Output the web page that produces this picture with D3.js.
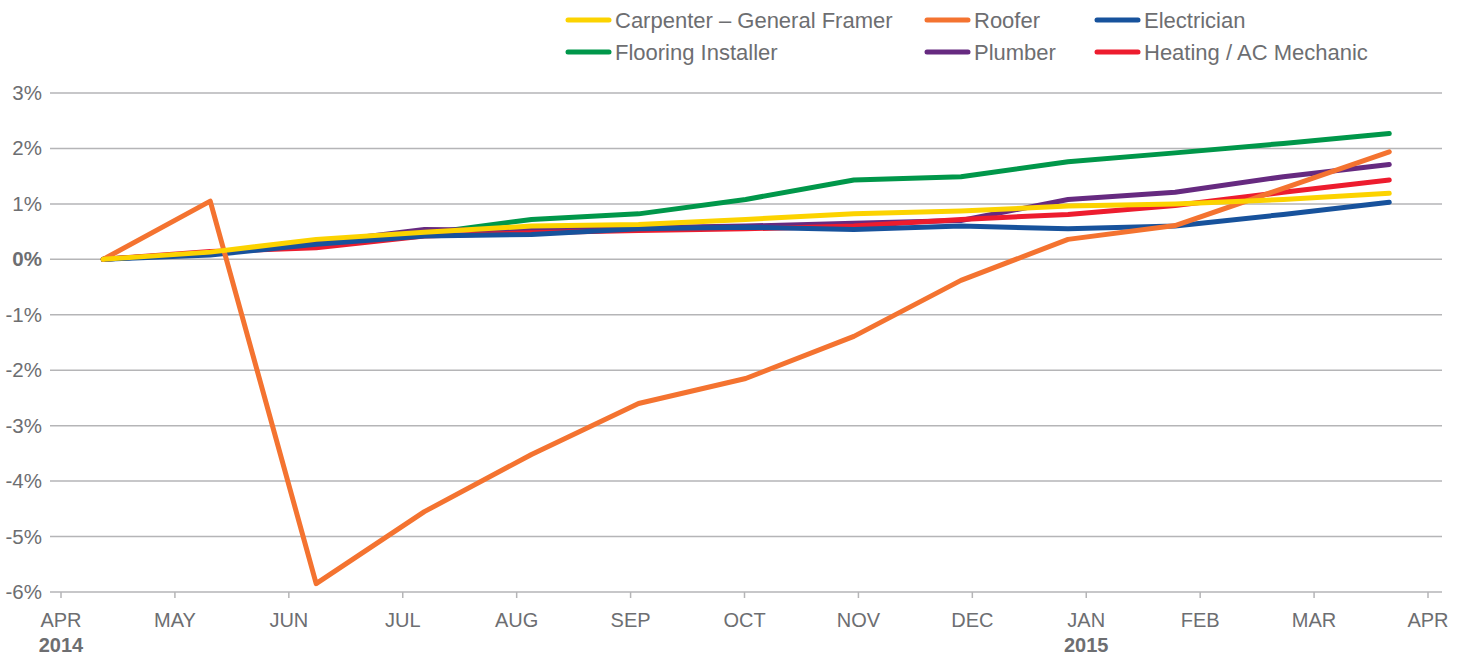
<!DOCTYPE html>
<html>
<head>
<meta charset="utf-8">
<style>
  body { margin: 0; background: #fff; }
  text { font-family: "Liberation Sans", Arial, sans-serif; fill: #6d6e71; }
</style>
</head>
<body>
<div id="chart"></div>
<script src="https://d3js.org/d3.v7.min.js"></script>
<script>
// month ticks along the x axis (APR 2014 .. APR 2015), one per index
var monthLabels = ["APR", "MAY", "JUN", "JUL", "AUG", "SEP", "OCT", "NOV", "DEC", "JAN", "FEB", "MAR", "APR"];
var yearLabels = [{ idx: 0, label: "2014" }, { idx: 9, label: "2015" }];
var yTicks = [-6, -5, -4, -3, -2, -1, 0, 1, 2, 3];

// position of each observation, in month units from APR 2014
var periods = [0.37, 1.31, 2.24, 3.19, 4.13, 5.07, 6.01, 6.96, 7.90, 8.84, 9.78, 10.73, 11.66];

// cumulative change, %
var carpenter   = [0, 0.13, 0.36, 0.49, 0.60, 0.63, 0.72, 0.82, 0.87, 0.96, 1.00, 1.08, 1.19];
var roofer      = [0, 1.05, -5.85, -4.55, -3.52, -2.60, -2.15, -1.39, -0.38, 0.36, 0.61, 1.28, 1.94];
var electrician = [0, 0.08, 0.27, 0.42, 0.45, 0.55, 0.58, 0.54, 0.60, 0.55, 0.60, 0.81, 1.03];
var flooring    = [0, 0.12, 0.30, 0.46, 0.72, 0.82, 1.08, 1.43, 1.49, 1.76, 1.92, 2.09, 2.27];
var plumber     = [0, 0.12, 0.30, 0.54, 0.52, 0.57, 0.60, 0.65, 0.70, 1.08, 1.21, 1.49, 1.71];
var heating     = [0, 0.14, 0.21, 0.42, 0.48, 0.52, 0.55, 0.60, 0.72, 0.81, 0.97, 1.21, 1.43];

var series = [
  { name: "Carpenter \u2013 General Framer", values: carpenter, color: "#fcd300", col: 0, row: 0, z: 5 },
  { name: "Roofer", values: roofer, color: "#f47330", col: 1, row: 0, z: 4 },
  { name: "Electrician", values: electrician, color: "#17529c", col: 2, row: 0, z: 3 },
  { name: "Flooring Installer", values: flooring, color: "#00974a", col: 0, row: 1, z: 0 },
  { name: "Plumber", values: plumber, color: "#662a80", col: 1, row: 1, z: 1 },
  { name: "Heating / AC Mechanic", values: heating, color: "#ed1c2e", col: 2, row: 1, z: 2 }
];

var W = 1465, H = 656;
var svg = d3.select("#chart").append("svg")
  .attr("width", W).attr("height", H);

var x = d3.scaleLinear().domain([0, 12]).range([61, 1428]);
var y = d3.scaleLinear().domain([-6, 3]).range([592, 93]);
var gridX0 = 50, gridX1 = 1442;

// horizontal gridlines
svg.append("g").selectAll("line")
  .data(yTicks)
  .enter().append("line")
    .attr("x1", gridX0).attr("x2", gridX1)
    .attr("y1", function(d) { return y(d) }).attr("y2", function(d) { return y(d) })
    .attr("stroke", "#b5b5b7").attr("stroke-width", 1.5);

// y labels
svg.append("g").selectAll("text")
  .data(yTicks)
  .enter().append("text")
    .attr("x", 42)
    .attr("y", function(d) { return y(d) + 7 })
    .attr("text-anchor", "end")
    .attr("font-size", "20.5px")
    .attr("font-weight", function(d) { return d === 0 ? "bold" : "normal" })
    .text(function(d) { return d + "%" });

// x axis ticks + labels
var xa = svg.append("g");
xa.selectAll("line")
  .data(monthLabels)
  .enter().append("line")
    .attr("x1", function(d, i) { return x(i) }).attr("x2", function(d, i) { return x(i) })
    .attr("y1", y(-6)).attr("y2", y(-6) + 6)
    .attr("stroke", "#b5b5b7").attr("stroke-width", 1.5);
xa.selectAll("text.month")
  .data(monthLabels)
  .enter().append("text")
    .attr("class", "month")
    .attr("x", function(d, i) { return x(i) })
    .attr("y", 627)
    .attr("text-anchor", "middle")
    .attr("font-size", "20px")
    .text(function(d) { return d });
xa.selectAll("text.year")
  .data(yearLabels)
  .enter().append("text")
    .attr("class", "year")
    .attr("x", function(d) { return x(d.idx) })
    .attr("y", 652)
    .attr("text-anchor", "middle")
    .attr("font-size", "20px")
    .attr("font-weight", "bold")
    .text(function(d) { return d.label });

// lines
var line = d3.line()
  .x(function(d, i) { return x(periods[i]) })
  .y(function(d) { return y(d) });

svg.append("g").selectAll("path")
  .data(series.slice().sort(function(a, b) { return a.z - b.z }))
  .enter().append("path")
    .attr("d", function(d) { return line(d.values) })
    .attr("fill", "none")
    .attr("stroke", function(d) { return d.color })
    .attr("stroke-width", 5)
    .attr("stroke-linecap", "round")
    .attr("stroke-linejoin", "round");

// legend
var colX = [568, 927, 1097], rowY = [20, 52];
var leg = svg.append("g").selectAll("g")
  .data(series)
  .enter().append("g")
    .attr("transform", function(d) { return "translate(" + colX[d.col] + "," + rowY[d.row] + ")" });
leg.append("line")
  .attr("x1", 0).attr("x2", 41).attr("y1", 0).attr("y2", 0)
  .attr("stroke", function(d) { return d.color })
  .attr("stroke-width", 5)
  .attr("stroke-linecap", "round");
leg.append("text")
  .attr("x", 47).attr("y", 7.5)
  .attr("font-size", "22px")
  .text(function(d) { return d.name });
</script>
</body>
</html>
